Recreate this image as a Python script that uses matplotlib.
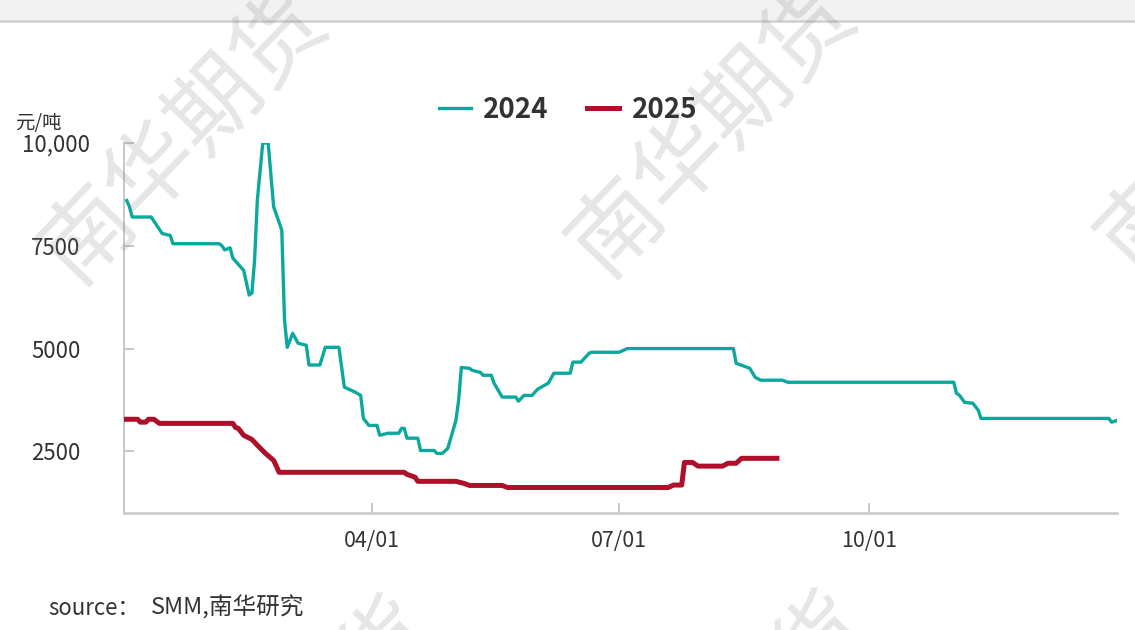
import matplotlib
matplotlib.use("Agg")
import matplotlib.pyplot as plt
import matplotlib.dates as mdates
import pandas as pd

plt.rcParams['font.family'] = ['Noto Sans CJK SC', 'DejaVu Sans']

# price series (元/吨); both drawn on a 2024 calendar
dates_2024 = ["01-02", "01-03", "01-04", "01-11", "01-15", "01-18", "01-19", "02-05", "02-06",
              "02-07", "02-09", "02-10", "02-12", "02-14", "02-16", "02-17", "02-18", "02-19",
              "02-21", "02-23", "02-25", "02-28", "02-29", "03-01", "03-03", "03-05", "03-08",
              "03-09", "03-13", "03-15", "03-20", "03-22", "03-26", "03-28", "03-29", "03-31",
              "04-03", "04-04", "04-07", "04-11", "04-12", "04-13", "04-14", "04-18", "04-19",
              "04-24", "04-25", "04-27", "04-29", "05-02", "05-03", "05-04", "05-07", "05-08",
              "05-11", "05-12", "05-15", "05-16", "05-19", "05-24", "05-25", "05-27", "05-30",
              "06-01", "06-05", "06-07", "06-13", "06-14", "06-17", "06-20", "06-21", "07-01",
              "07-04", "08-12", "08-13", "08-16", "08-18", "08-20", "08-22", "08-30", "09-01",
              "11-01", "11-02", "11-03", "11-05", "11-08", "11-10", "11-11", "12-28", "12-29",
              "12-31"]
price_2024 = [8600, 8450, 8200, 8200, 7800, 7750, 7550, 7550, 7500,
              7400, 7450, 7200, 7050, 6900, 6300, 6350, 7150, 8600,
              10000, 10000, 8450, 7880, 5700, 5030, 5370, 5130, 5080,
              4600, 4600, 5030, 5030, 4060, 3940, 3860, 3300, 3130,
              3130, 2890, 2940, 2940, 3060, 3060, 2820, 2820, 2520,
              2520, 2450, 2450, 2570, 3250, 3740, 4540, 4520, 4470,
              4420, 4350, 4350, 4160, 3820, 3820, 3720, 3860, 3860,
              4010, 4160, 4400, 4400, 4670, 4670, 4890, 4910, 4910,
              5000, 5000, 4640, 4570, 4520, 4300, 4230, 4230, 4180,
              4180, 3910, 3870, 3690, 3670, 3500, 3300, 3300, 3210,
              3250]

dates_2025 = ["01-01", "01-06", "01-07", "01-09", "01-10", "01-12", "01-14", "02-10", "02-11",
              "02-12", "02-14", "02-17", "02-19", "02-22", "02-25", "02-26", "02-27", "04-13",
              "04-14", "04-17", "04-18", "05-02", "05-05", "05-07", "05-19", "05-21", "07-19",
              "07-21", "07-24", "07-25", "07-28", "07-30", "08-08", "08-10", "08-13", "08-15",
              "08-28"]
price_2025 = [3280, 3280, 3210, 3210, 3280, 3280, 3180, 3180, 3080,
              3060, 2890, 2790, 2650, 2450, 2280, 2140, 1990, 1990,
              1940, 1870, 1770, 1770, 1720, 1670, 1670, 1620, 1620,
              1680, 1680, 2230, 2230, 2140, 2140, 2210, 2210, 2330,
              2330]

y_ticks = [2500, 5000, 7500, 10000]
y_ticklabels = ["2500", "5000", "7500", "10,000"]
x_ticks = ["2024-04-01", "2024-07-01", "2024-10-01"]

teal = "#0BA89D"
red = "#AE1029"
grey_txt = "#333333"

x24 = pd.to_datetime(["2024-" + d for d in dates_2024])
x25 = pd.to_datetime(["2024-" + d for d in dates_2025])

fig = plt.figure(figsize=(11.35, 6.3), dpi=100)
ax = fig.add_axes([124 / 1135, 117 / 630, 993 / 1135, 370 / 630])

# top band
fig.patches.append(plt.Rectangle((0, 1 - 20 / 630), 1, 20 / 630, transform=fig.transFigure,
                                 facecolor="#f2f2f2", edgecolor="none", zorder=0))
fig.add_artist(plt.Line2D([0, 1], [1 - 21 / 630, 1 - 21 / 630], transform=fig.transFigure,
                          color="#d2d2d2", lw=2, zorder=1))

l1, = ax.plot(x24, price_2024, color=teal, lw=2.4, solid_joinstyle="round", zorder=3)
l2, = ax.plot(x25, price_2025, color=red, lw=3.6, solid_joinstyle="round", zorder=3)

ax.set_xlim(pd.Timestamp("2024-01-01"), pd.Timestamp("2024-12-31"))
ax.set_ylim(1000, 10000)
ax.set_yticks(y_ticks)
ax.set_yticklabels(y_ticklabels)
ax.set_xticks(pd.to_datetime(x_ticks))
ax.xaxis.set_major_formatter(mdates.DateFormatter("%m/%d"))

for s in ["top", "right"]:
    ax.spines[s].set_visible(False)
ax.spines["left"].set_color("#bdbdbd")
ax.spines["left"].set_linewidth(1.2)
ax.spines["bottom"].set_color("#c8c8c8")
ax.spines["bottom"].set_linewidth(1.8)

ax.tick_params(axis="y", direction="in", length=7, width=1.2, color="#bdbdbd",
               labelsize=16, labelcolor=grey_txt, pad=49)
for t in ax.get_yticklabels():
    t.set_horizontalalignment("center")
    t.set_fontweight("light")
ax.tick_params(axis="x", direction="in", length=7, width=1.2, color="#bdbdbd",
               labelsize=15.5, labelcolor=grey_txt, pad=12)
for t in ax.get_xticklabels():
    t.set_fontweight("light")

fig.text(15 / 1135, 1 - 124 / 630, "元/吨", fontsize=14, color=grey_txt, va="center", ha="left")

fig.legend([l1, l2], ["2024", "2025"], loc="center", bbox_to_anchor=(568 / 1135, 1 - 110 / 630),
           ncol=2, frameon=False, handlelength=1.15, handletextpad=0.45, columnspacing=1.4,
           prop={"size": 20, "weight": "bold"}, labelcolor=grey_txt)

fig.text(48 / 1135, 1 - 608 / 630, "source：", fontsize=16, color=grey_txt, va="center", ha="left")
fig.text(151 / 1135, 1 - 608 / 630, "SMM,南华研究", fontsize=17, color=grey_txt, va="center",
         ha="left", style="italic")

# watermark
for cx, cy in [(185, 137), (714, 130), (1243, 125), (292, 745), (727, 740)]:
    fig.text(cx / 1135, 1 - cy / 630, "南华期货", fontsize=66, color="gray", alpha=0.2,
             rotation=46, ha="center", va="center", rotation_mode="anchor", zorder=2)

fig.savefig("out.png", dpi=100)
